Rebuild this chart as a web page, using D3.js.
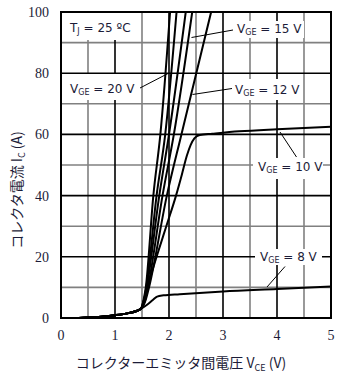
<!DOCTYPE html>
<html><head><meta charset="utf-8">
<script src="https://cdn.jsdelivr.net/npm/d3@7"></script>
<style>body{margin:0;background:#fff}svg{display:block}</style>
</head><body>
<script>
// ---- data ----
const xTicks = [0,1,2,3,4,5];
const yTicks = [0,20,40,60,80,100];
const xMinor = [0.5,1.5,2.5,3.5,4.5];
const yMinor = [10,30,50,70,90];
const common = [[0.33,0],[0.5,0.15],[0.75,0.45],[1.0,0.9],[1.25,1.6],[1.4,2.3],[1.48,3.0]];
const curve20 = [[1.53,6],[1.57,10],[1.71,40],[1.84,60],[2.02,100]];
const curveA  = [[1.54,6],[1.58,10],[1.77,40],[1.93,60],[2.14,100]];
const curveB  = [[1.55,6],[1.59,10],[1.82,40],[2.00,60],[2.31,100]];
const curve15 = [[1.56,6],[1.61,10],[1.88,40],[2.09,60],[2.43,100]];
const curve12 = [[1.57,6],[1.63,10],[1.96,40],[2.23,60],[2.78,100]];
const curve10 = [[1.52,5],[1.6,10],[1.77,20],[1.95,30],[2.13,40],[2.24,47],[2.33,53],[2.40,56.5],[2.47,58.7],[2.57,59.8],[2.8,60.2],[3.3,61],[4,61.7],[5,62.5]];
const curve8  = [[1.5,3.2],[1.6,4.4],[1.7,5.9],[1.78,7],[1.9,7.4],[2.2,7.8],[3,8.7],[4,9.5],[5,10.3]];
const seriesList = [curve20, curveA, curveB, curve15, curve12, curve10, curve8];
const labels = [
  {v:"20", tx:70,  ty:93,  box:[64,74,74,26],  lead:[[140,88],[168,73.5]]},
  {v:"15", tx:237, ty:33,  box:[232,21,72,17], lead:[[233,30],[191.5,37.5]]},
  {v:"12", tx:235, ty:94,  box:[230,79,72,21], lead:[[232,88.5],[192.5,94.5]]},
  {v:"10", tx:258, ty:171, box:[253,158,70,21],lead:[[296.5,157],[280,132]]},
  {v:"8",  tx:260, ty:261, box:[255,249,67,16],lead:[[285,266.5],[267,287]]}
];

const W=351,H=379;
const x = d3.scaleLinear().domain([0,5]).range([61,331]);
const y = d3.scaleLinear().domain([0,100]).range([318,12]);
const svg = d3.select("body").append("svg").attr("width",W).attr("height",H);

svg.append("clipPath").attr("id","clip").append("rect")
  .attr("x",61).attr("y",12).attr("width",270).attr("height",306);

const g = svg.append("g");
// minor grid
g.selectAll(".vx").data(xMinor).join("line")
  .attr("x1",d=>x(d)).attr("x2",d=>x(d)).attr("y1",y(0)).attr("y2",y(100))
  .attr("stroke","#808080").attr("stroke-width",1.6);
g.selectAll(".hy").data(yMinor).join("line")
  .attr("x1",x(0)).attr("x2",x(5)).attr("y1",d=>y(d)).attr("y2",d=>y(d))
  .attr("stroke","#808080").attr("stroke-width",1.6);
// major grid
g.selectAll(".vX").data(xTicks.slice(1,-1)).join("line")
  .attr("x1",d=>x(d)).attr("x2",d=>x(d)).attr("y1",y(0)).attr("y2",y(100))
  .attr("stroke","#000").attr("stroke-width",1.6);
g.selectAll(".hY").data(yTicks.slice(1,-1)).join("line")
  .attr("x1",x(0)).attr("x2",x(5)).attr("y1",d=>y(d)).attr("y2",d=>y(d))
  .attr("stroke","#000").attr("stroke-width",1.6);

// label boxes
svg.selectAll(".lb").data(labels).join("rect")
  .attr("x",d=>d.box[0]).attr("y",d=>d.box[1]).attr("width",d=>d.box[2]).attr("height",d=>d.box[3])
  .attr("fill","#fff");
svg.append("rect").attr("x",63).attr("y",13).attr("width",76).attr("height",27).attr("fill","#fff");

// curves
const line = d3.line().x(d=>x(d[0])).y(d=>y(d[1])).curve(d3.curveMonotoneX);
svg.append("g").attr("clip-path","url(#clip)").selectAll("path").data(seriesList).join("path")
  .attr("d",d=>line(common.concat(d)))
  .attr("fill","none").attr("stroke","#000").attr("stroke-width",2);

// frame
svg.append("rect").attr("x",x(0)).attr("y",y(100)).attr("width",x(5)-x(0)).attr("height",y(0)-y(100))
  .attr("fill","none").attr("stroke","#000").attr("stroke-width",2);

// leaders
svg.selectAll(".ld").data(labels).join("line")
  .attr("x1",d=>d.lead[0][0]).attr("y1",d=>d.lead[0][1]).attr("x2",d=>d.lead[1][0]).attr("y2",d=>d.lead[1][1])
  .attr("stroke","#000").attr("stroke-width",1);

const txtCol = "#1c1c38";
const sans = "'DejaVu Sans', Verdana, sans-serif";
// label texts
labels.forEach(d=>{
  const t = svg.append("text").attr("x",d.tx).attr("y",d.ty)
    .attr("font-family",sans).attr("font-size",12).attr("fill",txtCol);
  t.append("tspan").text("V");
  t.append("tspan").attr("font-size",8).attr("dy",2).text("GE");
  t.append("tspan").attr("dy",-2).text(" = "+d.v+" V");
});
{
  const t = svg.append("text").attr("x",70).attr("y",32)
    .attr("font-family",sans).attr("font-size",12).attr("fill",txtCol);
  t.append("tspan").text("T");
  t.append("tspan").attr("font-size",8).attr("dy",2).text("J");
  t.append("tspan").attr("dy",-2).text(" = 25 ºC");
}

// tick labels
const serif = "'Liberation Serif','Times New Roman',serif";
svg.selectAll(".xt").data(xTicks).join("text")
  .attr("x",d=>x(d)).attr("y",340).attr("text-anchor","middle")
  .attr("font-family",serif).attr("font-size",14).attr("fill",txtCol).text(d=>d);
svg.selectAll(".yt").data(yTicks).join("text")
  .attr("x",49).attr("y",d=>y(d)+5).attr("text-anchor","end")
  .attr("font-family",serif).attr("font-size",14).attr("fill",txtCol).text(d=>d);

// axis titles
const cjk = "'Noto Sans CJK JP', sans-serif";
{
  const t = svg.append("text").attr("x",181).attr("y",368).attr("text-anchor","middle")
    .attr("font-family",cjk).attr("font-size",14).attr("fill",txtCol);
  t.append("tspan").text("コレクターエミッタ間電圧 V");
  t.append("tspan").attr("font-size",9).attr("dy",3).text("CE");
  t.append("tspan").attr("dy",-3).text(" (V)");
}
{
  const t = svg.append("text").attr("transform","translate(22,190) rotate(-90)").attr("text-anchor","middle")
    .attr("font-family",cjk).attr("font-size",14).attr("fill",txtCol);
  t.append("tspan").text("コレクタ電流 I");
  t.append("tspan").attr("font-size",9).attr("dy",3).text("C");
  t.append("tspan").attr("dy",-3).text(" (A)");
}
</script>
</body></html>
